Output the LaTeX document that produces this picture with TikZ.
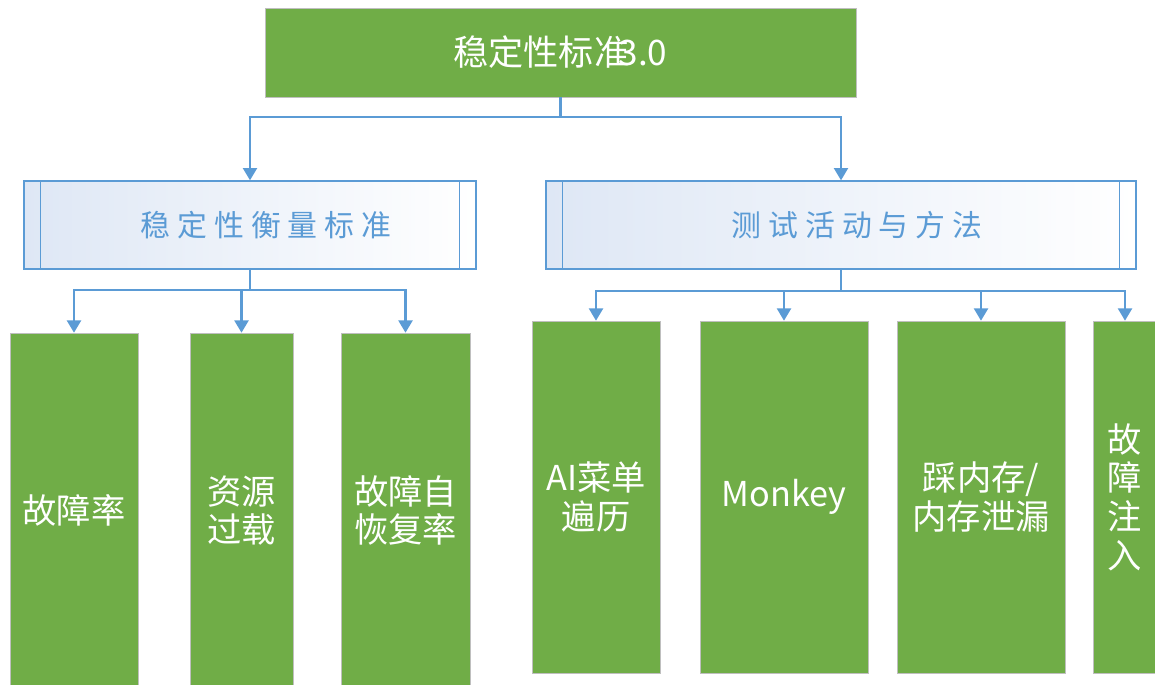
\documentclass[tikz,border=0pt]{standalone}
\usepackage{fontspec}
\setmainfont{Noto Sans CJK SC}
\usetikzlibrary{arrows.meta}
\definecolor{leafgreen}{RGB}{112,173,71}
\definecolor{linkblue}{RGB}{91,155,213}
\definecolor{boxgray}{RGB}{191,191,191}
\definecolor{paleblue}{RGB}{222,231,245}
\newcommand\chgap{\hspace{0.23em}}
\begin{document}
\begin{tikzpicture}[x=0.02cm,y=-0.02cm,
		leaf/.style={draw=boxgray,fill=leafgreen,text=white,font=\fontsize{19.5}{22}\selectfont,align=center,inner sep=0pt},
		group/.style={draw=linkblue,thick,left color=paleblue,right color=white,text=linkblue,font=\fontsize{17}{20}\selectfont,minimum height=1.76cm,inner sep=0pt,execute at begin node=\hspace*{0.64cm}},
		link/.style={draw=linkblue,line width=1.2pt,-{Triangle[width=8pt,length=7pt]}}]
			%\draw [help lines] (0,0) grid (1155,684);
			\useasboundingbox (0,0) rectangle (1155,684);

			\node[leaf,font=\fontsize{20}{24}\selectfont,minimum width=11.82cm,minimum height=1.78cm] (top) at (560.5,52.5) {稳定性标准\kern-0.3em 3.0};

			\node[group,minimum width=9.04cm] (std) at (250,225) {稳\chgap 定\chgap 性\chgap 衡\chgap 量\chgap 标\chgap 准};
			\node[group,minimum width=11.8cm] (act) at (841,225) {测\chgap 试\chgap 活\chgap 动\chgap 与\chgap 方\chgap 法};
			\draw[linkblue,thick] ([xshift=0.34cm]std.north west) -- ([xshift=0.34cm]std.south west);
			\draw[linkblue,thick] ([xshift=-0.34cm]std.north east) -- ([xshift=-0.34cm]std.south east);
			\draw[linkblue,thick] ([xshift=0.34cm]act.north west) -- ([xshift=0.34cm]act.south west);
			\draw[linkblue,thick] ([xshift=-0.34cm]act.north east) -- ([xshift=-0.34cm]act.south east);

			\node[leaf,minimum width=2.56cm,minimum height=7.1cm] (rate) at (74,510.5) {故障率};
			\node[leaf,minimum width=2.06cm,minimum height=7.1cm] (load) at (241.5,510.5) {资源\\过载};
			\node[leaf,minimum width=2.58cm,minimum height=7.1cm] (heal) at (405.5,510.5) {故障自\\恢复率};

			\node[leaf,minimum width=2.56cm,minimum height=7.04cm] (menu) at (596,497) {AI菜单\\遍历};
			\node[leaf,minimum width=3.36cm,minimum height=7.04cm] (monkey) at (784,497) {Monkey};
			\node[leaf,minimum width=3.36cm,minimum height=7.04cm] (mem) at (981,497) {踩内存/\\内存泄漏};
			\node[leaf,minimum width=1.28cm,minimum height=7.04cm] (fault) at (1125,497) {故\\障\\注\\入};

			\draw[link] (top.south) -- ++(0,20) -| (std.north);
			\draw[link] (top.south) -- ++(0,20) -| (act.north);

			\draw[link] (std.south) -- ++(0,20) -| (rate.north);
			\draw[link] (std.south) -- ++(0,20) -| (load.north);
			\draw[link] (std.south) -- ++(0,20) -| (heal.north);

			\draw[link] (act.south) -- ++(0,21) -| (menu.north);
			\draw[link] (act.south) -- ++(0,21) -| (monkey.north);
			\draw[link] (act.south) -- ++(0,21) -| (mem.north);
			\draw[link] (act.south) -- ++(0,21) -| (fault.north);
		\end{tikzpicture}
\end{document}
